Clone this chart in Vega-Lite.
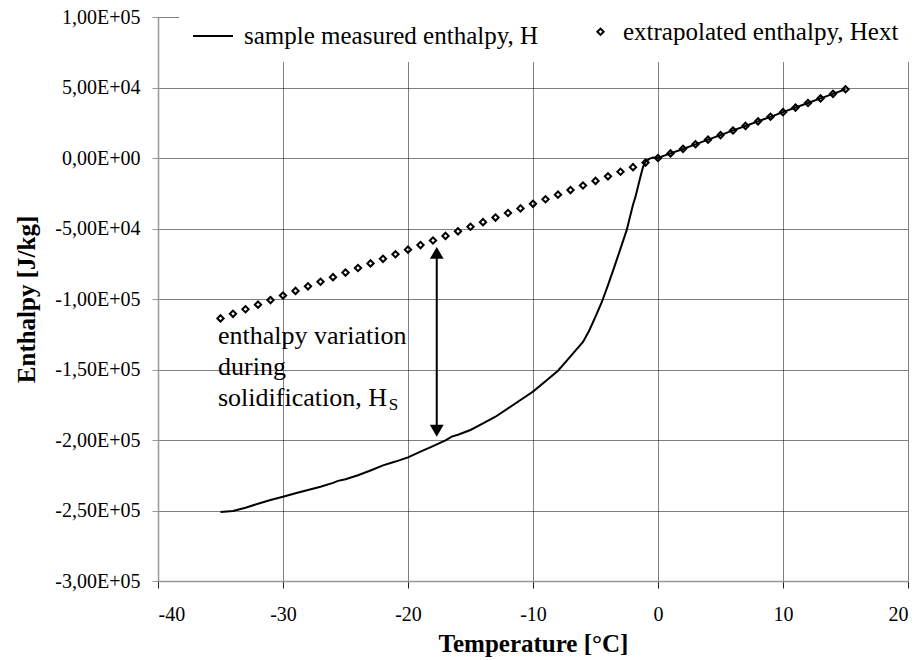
{
  "$schema": "https://vega.github.io/schema/vega-lite/v6.json",
  "width": 750,
  "height": 564,
  "autosize": {"type": "none"},
  "padding": {"left": 158, "top": 17, "right": 16, "bottom": 79},
  "background": "white",
  "config": {
    "view": {"stroke": null},
    "font": "Liberation Serif",
    "axis": {
      "labelFont": "Liberation Serif",
      "labelFontSize": 20,
      "labelColor": "black",
      "titleFont": "Liberation Serif",
      "titleFontSize": 25,
      "titleFontWeight": "bold",
      "titleColor": "black",
      "grid": true,
      "gridColor": "#000",
      "gridDash": [1, 1],
      "gridWidth": 1,
      "domainColor": "#999",
      "domainWidth": 1.5,
      "tickColor": "#222",
      "tickSize": 7
    }
  },
  "datasets": {
    "measured": [
      {"T": -35, "H": -251000}, {"T": -34, "H": -250300}, {"T": -33, "H": -248000},
      {"T": -32, "H": -245200}, {"T": -31, "H": -242600}, {"T": -30, "H": -240200},
      {"T": -29, "H": -237800}, {"T": -28, "H": -235500}, {"T": -27, "H": -233100},
      {"T": -26, "H": -230400}, {"T": -25.6, "H": -229000}, {"T": -25, "H": -227800},
      {"T": -24, "H": -225000}, {"T": -23, "H": -221600}, {"T": -22, "H": -218000},
      {"T": -21, "H": -215300}, {"T": -20, "H": -212300}, {"T": -19, "H": -208200},
      {"T": -18, "H": -204300}, {"T": -17, "H": -200300}, {"T": -16.5, "H": -197600},
      {"T": -16, "H": -196300}, {"T": -15, "H": -192900}, {"T": -14, "H": -188200},
      {"T": -13, "H": -183500}, {"T": -12, "H": -177600}, {"T": -11, "H": -171600},
      {"T": -10, "H": -165700}, {"T": -9, "H": -158300}, {"T": -8, "H": -150900},
      {"T": -7, "H": -140700}, {"T": -6, "H": -130400}, {"T": -5.5, "H": -122300},
      {"T": -5, "H": -112500}, {"T": -4.5, "H": -102300}, {"T": -4, "H": -90100},
      {"T": -3.5, "H": -77400}, {"T": -3, "H": -64300}, {"T": -2.5, "H": -51000},
      {"T": -2, "H": -33100}, {"T": -1.8, "H": -27400}, {"T": -1.4, "H": -13200},
      {"T": -1.2, "H": -6500}, {"T": -1, "H": -2600}, {"T": -0.7, "H": -600},
      {"T": -0.4, "H": 300}, {"T": 0, "H": 0}, {"T": 1, "H": 3300},
      {"T": 2, "H": 6400}, {"T": 3, "H": 9700}, {"T": 4, "H": 13000},
      {"T": 5, "H": 16200}, {"T": 6, "H": 19600}, {"T": 7, "H": 22700},
      {"T": 8, "H": 26000}, {"T": 9, "H": 29200}, {"T": 10, "H": 32500},
      {"T": 11, "H": 35800}, {"T": 12, "H": 39000}, {"T": 13, "H": 42300},
      {"T": 14, "H": 45500}, {"T": 15, "H": 48800}
    ],
    "extrapolated": [
      {"T": -35, "H": -113750, "series": "extrapolated enthalpy, Hext"},
      {"T": -34, "H": -110500, "series": "extrapolated enthalpy, Hext"},
      {"T": -33, "H": -107250, "series": "extrapolated enthalpy, Hext"},
      {"T": -32, "H": -104000, "series": "extrapolated enthalpy, Hext"},
      {"T": -31, "H": -100750, "series": "extrapolated enthalpy, Hext"},
      {"T": -30, "H": -97500, "series": "extrapolated enthalpy, Hext"},
      {"T": -29, "H": -94250, "series": "extrapolated enthalpy, Hext"},
      {"T": -28, "H": -91000, "series": "extrapolated enthalpy, Hext"},
      {"T": -27, "H": -87750, "series": "extrapolated enthalpy, Hext"},
      {"T": -26, "H": -84500, "series": "extrapolated enthalpy, Hext"},
      {"T": -25, "H": -81250, "series": "extrapolated enthalpy, Hext"},
      {"T": -24, "H": -78000, "series": "extrapolated enthalpy, Hext"},
      {"T": -23, "H": -74750, "series": "extrapolated enthalpy, Hext"},
      {"T": -22, "H": -71500, "series": "extrapolated enthalpy, Hext"},
      {"T": -21, "H": -68250, "series": "extrapolated enthalpy, Hext"},
      {"T": -20, "H": -65000, "series": "extrapolated enthalpy, Hext"},
      {"T": -19, "H": -61750, "series": "extrapolated enthalpy, Hext"},
      {"T": -18, "H": -58500, "series": "extrapolated enthalpy, Hext"},
      {"T": -17, "H": -55250, "series": "extrapolated enthalpy, Hext"},
      {"T": -16, "H": -52000, "series": "extrapolated enthalpy, Hext"},
      {"T": -15, "H": -48750, "series": "extrapolated enthalpy, Hext"},
      {"T": -14, "H": -45500, "series": "extrapolated enthalpy, Hext"},
      {"T": -13, "H": -42250, "series": "extrapolated enthalpy, Hext"},
      {"T": -12, "H": -39000, "series": "extrapolated enthalpy, Hext"},
      {"T": -11, "H": -35750, "series": "extrapolated enthalpy, Hext"},
      {"T": -10, "H": -32500, "series": "extrapolated enthalpy, Hext"},
      {"T": -9, "H": -29250, "series": "extrapolated enthalpy, Hext"},
      {"T": -8, "H": -26000, "series": "extrapolated enthalpy, Hext"},
      {"T": -7, "H": -22750, "series": "extrapolated enthalpy, Hext"},
      {"T": -6, "H": -19500, "series": "extrapolated enthalpy, Hext"},
      {"T": -5, "H": -16250, "series": "extrapolated enthalpy, Hext"},
      {"T": -4, "H": -13000, "series": "extrapolated enthalpy, Hext"},
      {"T": -3, "H": -9750, "series": "extrapolated enthalpy, Hext"},
      {"T": -2, "H": -6500, "series": "extrapolated enthalpy, Hext"},
      {"T": -1, "H": -3250, "series": "extrapolated enthalpy, Hext"},
      {"T": 0, "H": 0, "series": "extrapolated enthalpy, Hext"},
      {"T": 1, "H": 3250, "series": "extrapolated enthalpy, Hext"},
      {"T": 2, "H": 6500, "series": "extrapolated enthalpy, Hext"},
      {"T": 3, "H": 9750, "series": "extrapolated enthalpy, Hext"},
      {"T": 4, "H": 13000, "series": "extrapolated enthalpy, Hext"},
      {"T": 5, "H": 16250, "series": "extrapolated enthalpy, Hext"},
      {"T": 6, "H": 19500, "series": "extrapolated enthalpy, Hext"},
      {"T": 7, "H": 22750, "series": "extrapolated enthalpy, Hext"},
      {"T": 8, "H": 26000, "series": "extrapolated enthalpy, Hext"},
      {"T": 9, "H": 29250, "series": "extrapolated enthalpy, Hext"},
      {"T": 10, "H": 32500, "series": "extrapolated enthalpy, Hext"},
      {"T": 11, "H": 35750, "series": "extrapolated enthalpy, Hext"},
      {"T": 12, "H": 39000, "series": "extrapolated enthalpy, Hext"},
      {"T": 13, "H": 42250, "series": "extrapolated enthalpy, Hext"},
      {"T": 14, "H": 45500, "series": "extrapolated enthalpy, Hext"},
      {"T": 15, "H": 48750, "series": "extrapolated enthalpy, Hext"}
    ]
  },
  "encoding": {
    "x": {
      "field": "T", "type": "quantitative",
      "scale": {"domain": [-40, 20], "nice": false, "zero": false},
      "axis": {
        "title": "Temperature [°C]",
        "values": [-40, -30, -20, -10, 0, 10, 20],
        "labelExpr": "replace(datum.label, '−', '-')",
        "labelFont": "Liberation Serif",
        "labelFontSize": 20,
        "labelPadding": 16,
        "titlePadding": 7
      }
    },
    "y": {
      "field": "H", "type": "quantitative",
      "scale": {"domain": [-300000, 100000], "nice": false, "zero": false},
      "axis": {
        "title": "Enthalpy [J/kg]",
        "values": [-300000, -250000, -200000, -150000, -100000, -50000, 0, 50000, 100000],
        "labelExpr": "replace(replace(replace(format(datum.value, '.2e'), '.', ','), 'e+', 'E+0'), '−', '-')",
        "labelFont": "Liberation Serif",
        "labelFontSize": 20,
        "labelPadding": 12,
        "titlePadding": 15,
        "tickColor": "#999",
        "tickSize": 6
      }
    }
  },
  "layer": [
    {
      "data": {"name": "measured"},
      "mark": {"type": "line", "color": "black", "strokeWidth": 2}
    },
    {
      "data": {"name": "extrapolated"},
      "mark": {"type": "point", "filled": false, "stroke": "black", "strokeWidth": 2, "opacity": 1},
      "encoding": {
        "shape": {
          "field": "series", "type": "nominal",
          "scale": {
            "domain": ["sample measured enthalpy, H", "extrapolated enthalpy, Hext"],
            "range": ["stroke", "diamond"]
          },
          "legend": {
            "title": null,
            "orient": "none",
            "direction": "horizontal",
            "legendX": 21,
            "legendY": -15,
            "padding": 13,
            "fillColor": "white",
            "labelFont": "Liberation Serif",
            "labelFontSize": 25,
            "labelLimit": 500,
            "labelColor": "black",
            "labelOffset": 10,
            "columnPadding": 49,
            "symbolStrokeColor": "black",
            "symbolStrokeWidth": 2,
            "symbolFillColor": "white"
          }
        },
        "size": {
          "field": "series", "type": "nominal",
          "scale": {
            "domain": ["sample measured enthalpy, H", "extrapolated enthalpy, Hext"],
            "range": [1600, 40]
          },
          "legend": {
            "title": null,
            "orient": "none",
            "direction": "horizontal",
            "legendX": 21,
            "legendY": -15,
            "padding": 13,
            "fillColor": "white",
            "labelFont": "Liberation Serif",
            "labelFontSize": 25,
            "labelLimit": 500,
            "labelColor": "black",
            "labelOffset": 10,
            "columnPadding": 49,
            "symbolStrokeColor": "black",
            "symbolStrokeWidth": 2,
            "symbolFillColor": "white"
          }
        }
      }
    },
    {
      "data": {"values": [{"T": -17.7, "H": -67000, "H2": -193000}]},
      "mark": {"type": "rule", "color": "black", "strokeWidth": 2},
      "encoding": {"y2": {"field": "H2"}}
    },
    {
      "data": {"values": [{"T": -17.7, "H": -67300}]},
      "mark": {"type": "point", "shape": "triangle-up", "filled": true, "color": "black", "size": 190, "opacity": 1}
    },
    {
      "data": {"values": [{"T": -17.7, "H": -193400}]},
      "mark": {"type": "point", "shape": "triangle-down", "filled": true, "color": "black", "size": 190, "opacity": 1}
    },
    {
      "data": {"values": [{"T": -35.2, "H": -131900, "label": "enthalpy variation\nduring\nsolidification, H"}]},
      "mark": {"type": "text", "align": "left", "baseline": "alphabetic", "font": "Liberation Serif", "fontSize": 26, "lineHeight": 31, "lineBreak": "\n", "color": "black"},
      "encoding": {"text": {"field": "label"}}
    },
    {
      "data": {"values": [{"T": -21.55, "H": -178700, "label": "S"}]},
      "mark": {"type": "text", "align": "left", "baseline": "alphabetic", "font": "Liberation Serif", "fontSize": 17, "color": "black"},
      "encoding": {"text": {"field": "label"}}
    }
  ]
}
